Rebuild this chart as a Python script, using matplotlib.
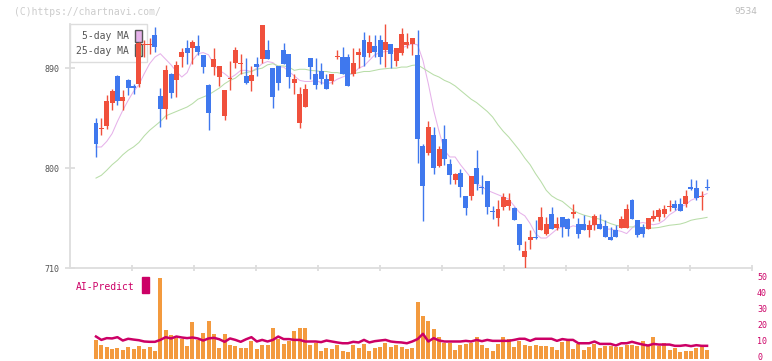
import numpy as np
import matplotlib
matplotlib.use("Agg")
import matplotlib.pyplot as plt
from matplotlib.patches import Patch, Rectangle
from matplotlib.transforms import ScaledTranslation

# ---------------------------------------------------------------------
# Data (ticker 9534)
# ---------------------------------------------------------------------
opens = [841, 835, 838, 859, 883, 860, 879, 874, 876, 911, 911, 920, 865, 853, 885, 879, 900, 908, 908, 910,
         902, 875, 891, 882, 847, 880, 895, 894, 883, 878, 894, 898, 906, 890, 892, 906, 903, 877, 841, 855,
         899, 885, 887, 880, 878, 900, 900, 900, 885, 902, 915, 904, 910, 915, 906, 912, 896, 904, 911, 912,
         902, 820, 814, 830, 802, 826, 804, 789, 796, 775, 775, 800, 783, 788, 761, 755, 765, 766, 764, 750,
         720, 735, 738, 744, 741, 759, 746, 756, 754, 759, 750, 750, 744, 749, 750, 748, 738, 744, 746, 746,
         771, 753, 747, 745, 754, 756, 759, 765, 768, 768, 768, 783, 782, 774, 783]
highs = [845, 845, 866, 871, 884, 870, 880, 876, 914, 915, 917, 927, 872, 893, 886, 896, 908, 915, 915, 920,
         902, 876, 908, 892, 870, 896, 909, 903, 899, 892, 900, 929, 915, 890, 892, 913, 903, 885, 873, 876,
         899, 899, 895, 885, 885, 906, 909, 903, 908, 908, 923, 920, 920, 920, 930, 912, 908, 926, 922, 917,
         924, 822, 842, 837, 820, 839, 808, 796, 799, 775, 793, 816, 794, 788, 766, 771, 778, 778, 765, 750,
         734, 744, 753, 765, 756, 765, 756, 756, 755, 768, 755, 758, 753, 759, 759, 753, 747, 749, 757, 768,
         772, 753, 750, 755, 762, 764, 767, 771, 771, 773, 780, 790, 789, 779, 790]
lows = [810, 830, 835, 852, 857, 852, 866, 867, 873, 900, 903, 905, 837, 844, 863, 864, 891, 894, 894, 902,
        886, 834, 884, 874, 843, 870, 890, 885, 876, 869, 883, 895, 898, 854, 870, 894, 872, 867, 836, 855,
        880, 871, 876, 871, 876, 898, 885, 874, 883, 890, 892, 900, 900, 894, 891, 890, 892, 902, 908, 902,
        805, 752, 812, 795, 801, 803, 786, 786, 774, 758, 771, 780, 777, 759, 754, 748, 762, 762, 753, 726,
        710, 727, 736, 744, 740, 745, 744, 738, 739, 755, 737, 744, 738, 744, 745, 738, 735, 738, 746, 746,
        754, 738, 738, 745, 752, 752, 756, 761, 762, 761, 765, 780, 771, 762, 780]
closes = [822, 836, 860, 869, 860, 864, 872, 872, 913, 912, 912, 909, 853, 888, 868, 893, 905, 904, 914, 905,
          891, 850, 898, 892, 870, 881, 906, 895, 877, 884, 891, 929, 898, 864, 877, 894, 882, 880, 867, 871,
          891, 875, 880, 871, 885, 901, 885, 874, 895, 905, 900, 914, 905, 900, 914, 903, 908, 921, 914, 917,
          826, 784, 837, 800, 817, 808, 794, 795, 783, 764, 793, 786, 782, 765, 760, 763, 774, 771, 753, 731,
          725, 738, 737, 756, 750, 745, 750, 747, 745, 760, 741, 744, 749, 757, 745, 738, 735, 738, 754, 763,
          754, 740, 741, 755, 757, 762, 763, 766, 764, 761, 775, 781, 773, 775, 782]

ma5 = [819, 819, 824, 831, 842, 852, 861, 869, 875, 885, 894, 900, 903, 898, 893, 887, 882, 886, 897, 903,
       904, 902, 893, 888, 885, 881, 884, 888, 888, 887, 890, 894, 896, 895, 891, 891, 887, 883, 879, 878,
       878, 879, 877, 876, 877, 880, 882, 884, 885, 890, 892, 897, 902, 904, 905, 905, 906, 908, 910, 912,
       911, 897, 876, 852, 833, 816, 810, 810, 803, 797, 791, 786, 783, 780, 778, 776, 774, 772, 766, 760,
       757, 750, 741, 737, 737, 741, 745, 747, 746, 748, 747, 748, 748, 749, 749, 745, 745, 744, 743, 741,
       746, 750, 751, 750, 749, 750, 753, 758, 761, 765, 767, 771, 773, 775, 777]
ma25 = [791, 793.5, 798, 803, 807, 812, 816, 819, 823, 829, 834, 838, 842, 847, 849, 851, 853, 855, 858, 862,
        864, 866, 869, 872, 876, 879, 881, 885, 886, 887, 889, 890, 893, 894, 892, 892, 891, 888, 889, 889,
        888, 887.6, 887, 887, 886, 886, 885, 885, 885, 886, 887, 887, 888, 889, 889.5, 890, 890, 891, 891, 892.5,
        893, 890, 887, 884, 882, 879, 877, 874, 870, 866, 862, 859, 855, 851, 846, 839, 833, 828, 822, 816,
        809, 803, 795, 788, 780, 775, 772, 770, 766, 762, 759.5, 757.7, 756.4, 755, 754, 752, 750, 748.5, 747.5, 747,
        747, 747, 746.5, 746, 746, 746.5, 747.5, 748.5, 749, 749.6, 751, 753, 754, 754.7, 755.6]

volume = [11.6, 8.5, 7.0, 6.0, 6.4, 5.3, 7.2, 6.0, 7.9, 6.0, 7.0, 4.7, 50.0, 17.9, 14.8, 12.7, 12.3, 7.9, 22.5, 11.6,
          16.2, 23.2, 15.4, 6.6, 15.4, 8.5, 7.9, 6.6, 6.6, 10.6, 5.8, 8.5, 8.5, 19.2, 12.3, 9.1, 11.2, 16.9, 19.2, 19.2,
          8.5, 9.5, 4.7, 6.6, 6.0, 8.5, 4.7, 4.1, 8.5, 6.6, 9.1, 4.7, 6.6, 7.4, 9.5, 7.4, 8.5, 7.0, 6.0, 6.6,
          35.1, 26.7, 23.6, 18.6, 13.1, 9.5, 9.5, 5.3, 8.5, 9.1, 9.5, 13.3, 8.5, 6.6, 4.9, 9.1, 13.5, 12.3, 7.0, 11.0,
          8.5, 7.9, 8.5, 7.9, 7.9, 7.0, 5.3, 10.4, 10.6, 6.0, 9.1, 5.3, 7.0, 9.1, 6.6, 7.9, 7.9, 7.0, 7.0, 8.5,
          8.5, 7.9, 11.0, 8.5, 13.5, 7.9, 9.7, 5.3, 6.6, 4.1, 4.7, 4.7, 6.6, 7.0, 5.3]
ai_predict = [13.7, 11.6, 12.7, 12.5, 13.3, 11.2, 12.3, 11.8, 11.4, 10.6, 10.4, 10.4, 11.6, 13.3, 12.5, 13.7, 13.1, 12.7, 13.1, 12.5,
              11.2, 12.5, 12.9, 12.0, 10.4, 12.5, 11.6, 10.4, 12.0, 13.3, 10.6, 11.6, 10.6, 11.6, 13.7, 12.1, 12.1, 11.6, 11.6, 10.6,
              10.6, 10.6, 10.2, 11.2, 10.6, 10.0, 9.5, 9.5, 10.4, 10.0, 11.6, 10.0, 10.8, 11.2, 11.6, 10.6, 10.2, 10.0, 9.5, 10.6,
              12.1, 15.4, 10.6, 12.7, 11.2, 10.6, 10.6, 10.6, 10.6, 11.0, 10.6, 11.6, 10.8, 11.6, 11.0, 11.0, 11.0, 11.0, 11.6, 12.3,
              12.3, 11.0, 12.3, 12.3, 12.3, 12.3, 11.0, 12.1, 11.6, 11.6, 9.5, 9.5, 9.5, 10.6, 9.1, 9.1, 9.1, 8.1, 9.5, 9.5,
              10.4, 9.5, 8.7, 8.1, 9.1, 8.7, 8.7, 8.7, 7.9, 7.9, 8.3, 7.7, 8.3, 7.9, 7.9]

tick_labels = ["2/20", "3/9", "3/24", "4/7", "4/21", "5/11", "5/25", "6/8", "6/22", "7/6", "7/21"]
tick_index = [14, 24, 34, 44, 54, 64, 74, 84, 94, 104, 114]

# ---------------------------------------------------------------------
# Styling
# ---------------------------------------------------------------------
UP = "#F0503C"
DOWN = "#3F78EE"
MA5_COLOR = "#E6B2EA"
MA25_COLOR = "#B8DDA8"
VOL_COLOR = "#F39A3E"
AI_COLOR = "#CC0066"
AXIS_GRAY = "#DDDDDD"
TEXT_GRAY = "#555555"
MONO = "DejaVu Sans Mono"

W, H = 772, 361


def px_box(x0, y0, x1, y1):
    # pixel box (y measured from the top) -> figure fraction rect
    return [x0 / W, 1 - y1 / H, (x1 - x0) / W, (y1 - y0) / H]


fig = plt.figure(figsize=(W / 100, H / 100), dpi=100)
ax = fig.add_axes(px_box(70, 24.3, 752, 268))
axv = fig.add_axes(px_box(70, 278.3, 752, 358.5), sharex=ax)

o = np.array(opens, dtype=float)
h = np.array(highs, dtype=float)
l = np.array(lows, dtype=float)
c = np.array(closes, dtype=float)
idx = np.arange(len(c))

# ---------------------------------------------------------------------
# Candles + moving averages
# ---------------------------------------------------------------------
colors = np.where(c >= o, UP, DOWN)
ax.vlines(idx, l, h, colors=colors, lw=1.0, zorder=3)
body = np.abs(c - o)
body_h = np.maximum(body, 1.0)
body_lo = np.minimum(o, c) - (body_h - body) / 2
ax.bar(idx, body_h, bottom=body_lo, width=0.92, color=colors, linewidth=0, zorder=4)

ax.plot(idx, ma5, color=MA5_COLOR, lw=0.75, zorder=2)
ax.plot(idx, ma25, color=MA25_COLOR, lw=0.75, zorder=2)

ax.set_xlim((70 - 96) / 5.36, (752 - 96) / 5.36)
ax.set_ylim(710, 929.5)

for side in ("top", "right"):
    ax.spines[side].set_visible(False)
for side in ("left", "bottom"):
    ax.spines[side].set_color(AXIS_GRAY)
    ax.spines[side].set_linewidth(1.3)

ax.set_yticks([710, 800, 890])
ax.set_yticklabels(["710", "800", "890"])
ax.tick_params(axis="y", direction="inout", length=6.5, width=1.3, color=AXIS_GRAY,
               labelsize=6, labelcolor=TEXT_GRAY, pad=4)

ax.set_xticks(tick_index)
ax.set_xticklabels(tick_labels)
ax.tick_params(axis="x", which="major", length=0, labelsize=6, labelcolor=TEXT_GRAY, pad=8)
ax.set_xticks(ax.get_xlim()[0] + 11.56 * np.arange(1, 12), minor=True)
ax.tick_params(axis="x", which="minor", direction="inout", length=4.5, width=1.3, color=AXIS_GRAY)
for t in ax.get_xticklabels() + ax.get_yticklabels():
    t.set_family(MONO)

leg = ax.legend(
    handles=[Patch(facecolor=MA5_COLOR, edgecolor="#555555", lw=1.0, label="5-day MA"),
             Patch(facecolor=MA25_COLOR, edgecolor="#555555", lw=1.0, label="25-day MA")],
    loc="upper left", bbox_to_anchor=(0, 1), borderaxespad=0, markerfirst=False,
    frameon=True, fancybox=False, edgecolor=AXIS_GRAY, framealpha=1,
    prop={"family": MONO, "size": 7}, handlelength=0.72, handleheight=1.5,
    handletextpad=0.6, labelspacing=0.25, borderpad=0.6)
leg.get_frame().set_linewidth(1.0)
leg.set_zorder(1)
for t in leg.get_texts():
    t.set_color(TEXT_GRAY)

# ---------------------------------------------------------------------
# Volume + AI-Predict panel
# ---------------------------------------------------------------------
axv.bar(idx, volume, width=0.75, color=VOL_COLOR, linewidth=0, zorder=2)
axv.plot(idx, ai_predict, color=AI_COLOR, lw=1.8, zorder=3)
axv.set_ylim(0, 50)
for side in axv.spines:
    axv.spines[side].set_visible(False)
axv.yaxis.tick_right()
axv.set_yticks([0, 10, 20, 30, 40, 50])
axv.tick_params(axis="y", length=0, labelsize=6, labelcolor=AI_COLOR, pad=3.6)
axv.tick_params(axis="x", which="both", length=0, labelbottom=False)
lift = ScaledTranslation(0, 1.5 / 72, fig.dpi_scale_trans)
for t in axv.get_yticklabels():
    t.set_family(MONO)
    t.set_transform(t.get_transform() + lift)

# ---------------------------------------------------------------------
# Annotations
# ---------------------------------------------------------------------
fig.text(14 / W, 1 - 12 / H, "(C)https://chartnavi.com/", family=MONO, size=7,
         color="#CCCCCC", va="center", ha="left")
fig.text(757 / W, 1 - 12 / H, "9534", size=6.5, color="#BBBBBB", va="center", ha="right")
fig.text(76 / W, 1 - 286.7 / H, "AI-Predict", family=MONO, size=7, color=AI_COLOR,
         va="center", ha="left")
fig.patches.append(Rectangle((142 / W, 1 - 292.7 / H), 7 / W, 15.4 / H,
                             transform=fig.transFigure, color=AI_COLOR, figure=fig))

fig.savefig("out.png", dpi=100)
